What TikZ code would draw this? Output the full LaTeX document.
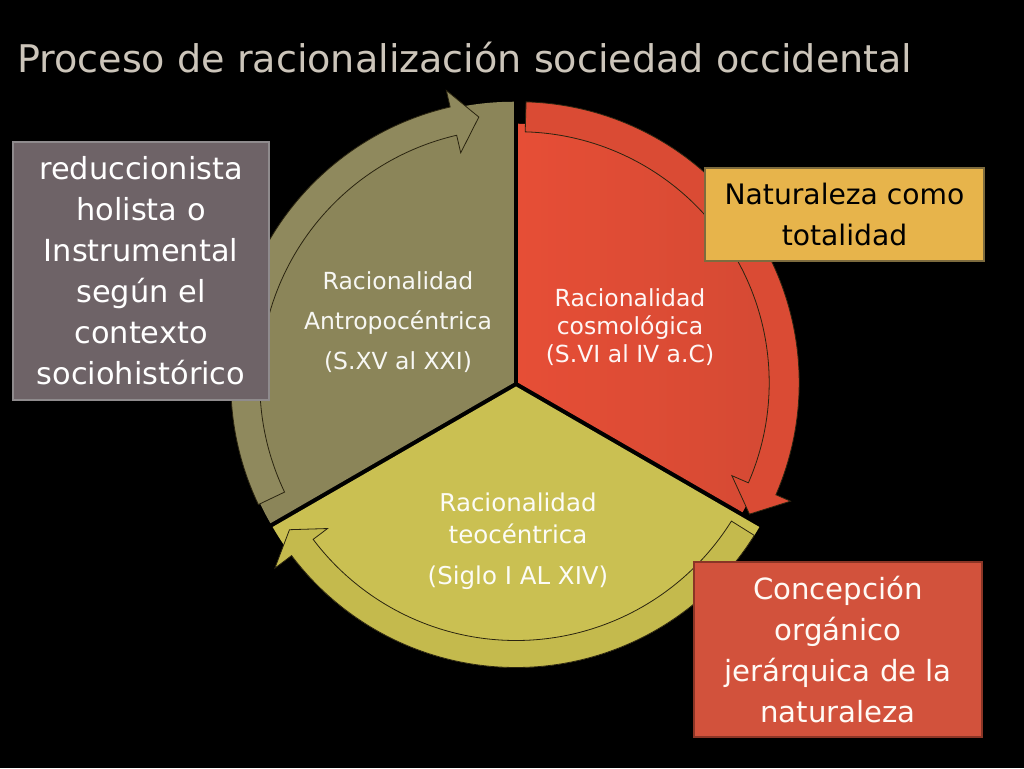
\documentclass[tikz,border=0pt]{standalone}
\usepackage{fontspec}
\setmainfont{DejaVu Sans}
\definecolor{bg}{HTML}{000000}
\definecolor{titlec}{HTML}{CCC5BA}
\definecolor{olivepie}{HTML}{8B8559}
\definecolor{oliveband}{HTML}{8F895D}
\definecolor{redpieL}{HTML}{E64E36}
\definecolor{redpieR}{HTML}{D24933}
\definecolor{redband}{HTML}{DA4B34}
\definecolor{yelpie}{HTML}{CAC052}
\definecolor{yelband}{HTML}{C4BA4D}
\definecolor{bandline}{HTML}{2A2410}
\definecolor{lboxfill}{HTML}{6E6367}
\definecolor{lboxdraw}{HTML}{8F8B8D}
\definecolor{oboxfill}{HTML}{E7B44B}
\definecolor{oboxdraw}{HTML}{7D6B3E}
\definecolor{rboxfill}{HTML}{D2523C}
\definecolor{rboxdraw}{HTML}{8A3526}
\tikzset{
  band/.style={draw=bandline, line width=0.8pt, line join=miter},
  infobox/.style={draw, line width=2pt, align=center, inner sep=0pt},
  segtext/.style={align=center, font=\fontsize{23.5}{40}\selectfont},
}
\begin{document}
\begin{tikzpicture}[x=1pt,y=1pt]
\fill[bg] (0,0) rectangle (1024,768);
\useasboundingbox (0,0) rectangle (1024,768);
% title
\node[anchor=base west, inner sep=0pt, text=titlec, font=\fontsize{38.1}{46}\selectfont] (title) at (17,695.3) {Proceso de racionalización sociedad occidental};
% pies
\begin{scope}[shift={(513.8,385.25)}]
  \fill[olivepie] (0,0) -- (90:281) arc[start angle=90,end angle=210,radius=281] -- cycle;
\end{scope}
\begin{scope}[shift={(518.2,385.25)}]
  \shade[left color=redpieL, right color=redpieR] (0,0) -- (-30:259) arc[start angle=-30,end angle=90,radius=259] -- cycle;
\end{scope}
\begin{scope}[shift={(516,381.5)}]
  \fill[yelpie] (0,0) -- (210:281) arc[start angle=210,end angle=330,radius=281] -- cycle;
\end{scope}
% bands
\begin{scope}[shift={(513.8,385.25)}]
  \fill[oliveband, band] (205.5:283) arc[start angle=205.5,end angle=103,radius=283] -- (103:300) -- (97.5:268) -- (103:236) -- (103:254) arc[start angle=103,end angle=205.5,radius=254] -- cycle;
\end{scope}
\begin{scope}[shift={(518.2,385.25)}]
  \fill[redband, band] (88.4:281) arc[start angle=88.4,end angle=-23.5,radius=281] -- (-23.5:297) -- (-29.6:266) -- (-23.5:233) -- (-23.5:251) arc[start angle=-23.5,end angle=88.4,radius=251] -- cycle;
\end{scope}
\begin{scope}[shift={(516,381.5)}]
  \fill[yelband, band] (-32:281) arc[start angle=-32,end angle=-143,radius=281] -- (-143:302) -- (-147.7:268) -- (-143:236) -- (-143:254) arc[start angle=-143,end angle=-32,radius=254] -- cycle;
\end{scope}
% segment texts
\node[segtext, text=white!93!olivepie] (antro) at (398,445.5) {Racionalidad\\Antropocéntrica\\(S.XV al XXI)};
\node[segtext, text=white!95!redpieL, font=\fontsize{23.5}{28}\selectfont] (cosmo) at (630,441) {Racionalidad\\cosmológica\\(S.VI al IV a.C)};
\node[segtext, text=white!95!yelpie, font=\fontsize{24.5}{32}\selectfont] (teo) at (518,227) {Racionalidad\\teocéntrica\\[9pt](Siglo I AL XIV)};
% boxes
\node[infobox, draw=lboxdraw, fill=lboxfill, text=white, minimum width=256pt, minimum height=258pt, font=\fontsize{30.4}{41}\selectfont] (lbox) at (141,497) {reduccionista\\holista o\\Instrumental\\según el\\contexto\\sociohistórico};
\node[infobox, draw=oboxdraw, fill=oboxfill, text=black, minimum width=279pt, minimum height=93pt, font=\fontsize{28.2}{41}\selectfont] (obox) at (844.5,553.5) {Naturaleza como\\totalidad};
\node[infobox, draw=rboxdraw, fill=rboxfill, text=white!96!orange, minimum width=288pt, minimum height=175pt, font=\fontsize{29.2}{41}\selectfont] (rbox) at (838,118.5) {Concepción\\orgánico\\jerárquica de la\\naturaleza};
\end{tikzpicture}
\end{document}
